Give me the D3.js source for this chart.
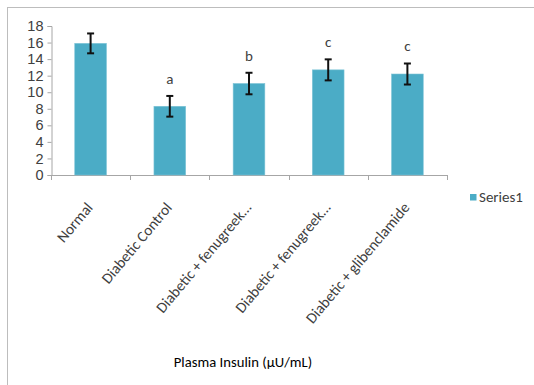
<!DOCTYPE html>
<html>
<head>
<meta charset="utf-8">
<script src="https://cdn.jsdelivr.net/npm/d3@7"></script>
<style>
  html, body { margin: 0; padding: 0; background: #fff; }
  svg { display: block; font-family: Carlito, Lato, "Open Sans", sans-serif; }
</style>
</head>
<body>
<svg id="chart" width="534" height="385"></svg>
<script>
// Plasma insulin per treatment group (mean ± error)
const categories = ["Normal", "Diabetic Control", "Diabetic + fenugreek…", "Diabetic + fenugreek…", "Diabetic + glibenclamide"];
const values = [15.9, 8.3, 11.05, 12.7, 12.2];
const errors = [1.2, 1.25, 1.3, 1.27, 1.27];
const sigLetters = ["", "a", "b", "c", "c"];
const yTicks = [0, 2, 4, 6, 8, 10, 12, 14, 16, 18];
const seriesName = "Series1";
const axisTitle = "Plasma Insulin (µU/mL)";

const svg = d3.select("#chart");
const barColor = "#4bacc6";
const axisColor = "#a6a6a6";
const textColor = "#404040";

// chart frame
svg.append("rect")
  .attr("x", 7.5).attr("y", 7.5)
  .attr("width", 540).attr("height", 400)
  .attr("fill", "none").attr("stroke", "#bdbdbd").attr("stroke-width", 1);

const plot = { left: 51, right: 447, top: 26, bottom: 175 };

const x = d3.scaleBand()
  .domain(d3.range(categories.length))
  .range([plot.left, plot.right])
  .paddingInner(0.6).paddingOuter(0.3);

const xOuter = d3.scaleBand()
  .domain(d3.range(categories.length))
  .range([plot.left, plot.right]);

const y = d3.scaleLinear().domain([0, 18]).range([plot.bottom, plot.top]);

// y axis
const yAxis = svg.append("g")
  .attr("transform", `translate(${plot.left + 0.5},0)`)
  .call(d3.axisLeft(y).tickValues(yTicks).tickSize(4).tickPadding(4));
yAxis.select(".domain").attr("stroke", axisColor);
yAxis.selectAll(".tick line").attr("stroke", axisColor);
yAxis.selectAll(".tick text")
  .attr("fill", textColor).style("font-size", "14.5px");

// x axis line with ticks at category boundaries
const xg = svg.append("g");
xg.append("line")
  .attr("x1", plot.left).attr("x2", plot.right + 0.5)
  .attr("y1", plot.bottom + 0.5).attr("y2", plot.bottom + 0.5)
  .attr("stroke", axisColor);
const bounds = d3.range(categories.length + 1).map(i =>
  i < categories.length ? xOuter(i) : xOuter(i - 1) + xOuter.bandwidth());
xg.selectAll("line.tk").data(bounds).join("line")
  .attr("class", "tk")
  .attr("x1", d => Math.round(d) + 0.5).attr("x2", d => Math.round(d) + 0.5)
  .attr("y1", plot.bottom).attr("y2", plot.bottom + 5)
  .attr("stroke", axisColor);

// bars
svg.selectAll("rect.bar").data(values).join("rect")
  .attr("class", "bar")
  .attr("x", (d, i) => x(i))
  .attr("width", x.bandwidth())
  .attr("y", d => y(d))
  .attr("height", d => y(0) - y(d))
  .attr("fill", barColor)
  .attr("stroke", "#7cc3d6").attr("stroke-width", 0.6);

// error bars
const eb = svg.selectAll("g.err").data(values).join("g").attr("class", "err")
  .attr("transform", (d, i) => `translate(${x(i) + x.bandwidth() / 2},0)`);
eb.append("line")
  .attr("y1", (d, i) => y(d + errors[i])).attr("y2", (d, i) => y(d - errors[i]))
  .attr("stroke", "#111").attr("stroke-width", 2);
eb.append("line")
  .attr("x1", -3.5).attr("x2", 3.5)
  .attr("y1", (d, i) => y(d + errors[i])).attr("y2", (d, i) => y(d + errors[i]))
  .attr("stroke", "#111").attr("stroke-width", 2);
eb.append("line")
  .attr("x1", -3.5).attr("x2", 3.5)
  .attr("y1", (d, i) => y(d - errors[i])).attr("y2", (d, i) => y(d - errors[i]))
  .attr("stroke", "#111").attr("stroke-width", 2);

// significance letters
svg.selectAll("text.sig").data(values).join("text")
  .attr("class", "sig")
  .attr("x", (d, i) => x(i) + x.bandwidth() / 2)
  .attr("y", (d, i) => y(d + errors[i]) - 12)
  .attr("text-anchor", "middle")
  .attr("fill", textColor)
  .style("font-size", "15px")
  .text((d, i) => sigLetters[i]);

// rotated category labels
svg.selectAll("text.cat").data(categories).join("text")
  .attr("class", "cat")
  .attr("transform", (d, i) => `translate(${x(i) + x.bandwidth() / 2 + 3},${plot.bottom + 33}) rotate(-50)`)
  .attr("text-anchor", "end")
  .attr("fill", textColor)
  .style("font-size", "15.3px")
  .text(d => d);

// axis title
svg.append("text")
  .attr("x", 243).attr("y", 367)
  .attr("text-anchor", "middle")
  .attr("fill", "#000")
  .style("font-size", "14.7px")
  .text(axisTitle);

// legend
const lg = svg.append("g").attr("transform", "translate(470,194)");
lg.append("rect").attr("width", 6.5).attr("height", 6.5).attr("fill", barColor);
lg.append("text").attr("x", 9).attr("y", 8)
  .attr("fill", textColor).style("font-size", "15px").text(seriesName);
</script>
</body>
</html>
